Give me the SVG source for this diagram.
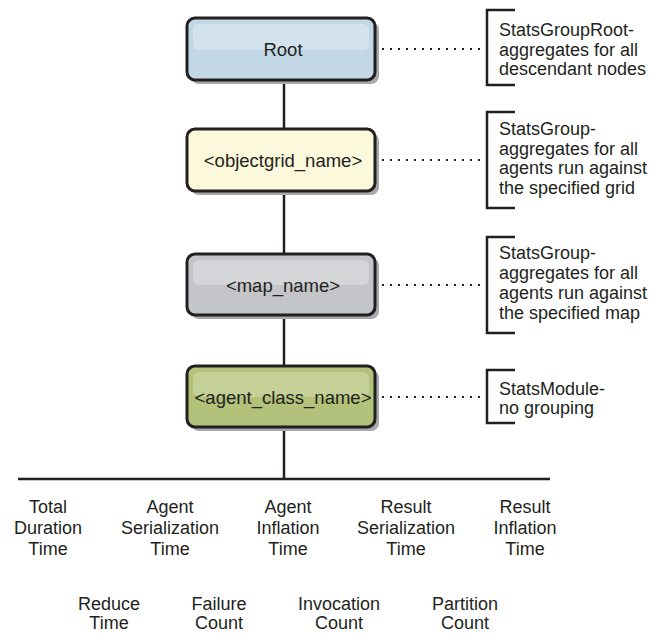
<svg xmlns="http://www.w3.org/2000/svg" width="652" height="634" viewBox="0 0 652 634">
<style>
text{font-family:"Liberation Sans",Arial,sans-serif;font-size:18px;fill:#231f20}
.lbl{text-anchor:middle}
.node{font-size:18.5px}
.box{stroke:#231f20;stroke-width:3}
.shadow{fill:#a7a9ac}
.conn{stroke:#231f20;stroke-width:2.5;fill:none}
.dot{stroke:#231f20;stroke-width:2;stroke-dasharray:2 6;fill:none}
.br{stroke:#231f20;stroke-width:2.5;fill:none}
</style>
<rect width="652" height="634" fill="#ffffff"/>
<g id="connectors">
<line class="conn" x1="284" y1="80" x2="284" y2="129"/>
<line class="conn" x1="284" y1="191" x2="284" y2="254"/>
<line class="conn" x1="284" y1="315" x2="284" y2="366"/>
<line class="conn" x1="284" y1="427" x2="284" y2="479"/>
<line class="conn" x1="18" y1="479" x2="550" y2="479" stroke-width="3"/>
<line class="dot" x1="382" y1="49" x2="486" y2="49"/>
<line class="dot" x1="382" y1="160" x2="486" y2="160"/>
<line class="dot" x1="382" y1="285" x2="486" y2="285"/>
<line class="dot" x1="382" y1="397" x2="486" y2="397"/>
</g>
<g id="root">
<rect class="shadow" x="191" y="22" width="188" height="62" rx="8"/>
<rect class="box" x="187" y="18" width="188" height="62" rx="8" fill="#c2d8e6"/>
<rect x="193" y="24" width="176" height="26" rx="6" fill="#d2e3ee"/>
<text class="lbl node" x="283" y="56">Root</text>
</g>
<g id="objectgrid">
<rect class="shadow" x="191" y="133" width="188" height="62" rx="8"/>
<rect class="box" x="187" y="129" width="188" height="62" rx="8" fill="#fbf8dc"/>
<text class="lbl node" x="283" y="167">&lt;objectgrid_name&gt;</text>
</g>
<g id="map">
<rect class="shadow" x="191" y="258" width="188" height="61" rx="8"/>
<rect class="box" x="187" y="254" width="188" height="61" rx="8" fill="#c3c5c8"/>
<rect x="193" y="260" width="176" height="25" rx="6" fill="#d3d5d7"/>
<text class="lbl node" x="283" y="292">&lt;map_name&gt;</text>
</g>
<g id="agent">
<rect class="shadow" x="191" y="370" width="188" height="61" rx="8"/>
<rect class="box" x="187" y="366" width="188" height="61" rx="8" fill="#b3c27a"/>
<rect x="193" y="372" width="176" height="25" rx="6" fill="#c4d096"/>
<text class="lbl node" x="283" y="404">&lt;agent_class_name&gt;</text>
</g>
<g id="note-root">
<path class="br" d="M515,10 H487 V85 H515"/>
<text x="499" y="36">StatsGroupRoot-</text>
<text x="499" y="55.5">aggregates for all</text>
<text x="499" y="75">descendant nodes</text>
</g>
<g id="note-grid">
<path class="br" d="M515,112 H487 V208 H515"/>
<text x="499" y="135">StatsGroup-</text>
<text x="499" y="154.5">aggregates for all</text>
<text x="499" y="174">agents run against</text>
<text x="499" y="193.5">the specified grid</text>
</g>
<g id="note-map">
<path class="br" d="M515,237 H487 V333 H515"/>
<text x="499" y="259">StatsGroup-</text>
<text x="499" y="279">aggregates for all</text>
<text x="499" y="299">agents run against</text>
<text x="499" y="319">the specified map</text>
</g>
<g id="note-agent">
<path class="br" d="M515,370 H487 V423 H515"/>
<text x="499" y="395">StatsModule-</text>
<text x="499" y="414">no grouping</text>
</g>
<g id="stat-total"><text class="lbl" x="48" y="513">Total</text><text class="lbl" x="48" y="534">Duration</text><text class="lbl" x="48" y="555">Time</text></g>
<g id="stat-agent-ser"><text class="lbl" x="170" y="513">Agent</text><text class="lbl" x="170" y="534">Serialization</text><text class="lbl" x="170" y="555">Time</text></g>
<g id="stat-agent-inf"><text class="lbl" x="288" y="513">Agent</text><text class="lbl" x="288" y="534">Inflation</text><text class="lbl" x="288" y="555">Time</text></g>
<g id="stat-result-ser"><text class="lbl" x="406" y="513">Result</text><text class="lbl" x="406" y="534">Serialization</text><text class="lbl" x="406" y="555">Time</text></g>
<g id="stat-result-inf"><text class="lbl" x="525" y="513">Result</text><text class="lbl" x="525" y="534">Inflation</text><text class="lbl" x="525" y="555">Time</text></g>
<g id="stat-reduce"><text class="lbl" x="109" y="610">Reduce</text><text class="lbl" x="109" y="629">Time</text></g>
<g id="stat-failure"><text class="lbl" x="219" y="610">Failure</text><text class="lbl" x="219" y="629">Count</text></g>
<g id="stat-invocation"><text class="lbl" x="339" y="610">Invocation</text><text class="lbl" x="339" y="629">Count</text></g>
<g id="stat-partition"><text class="lbl" x="465" y="610">Partition</text><text class="lbl" x="465" y="629">Count</text></g>
</svg>
